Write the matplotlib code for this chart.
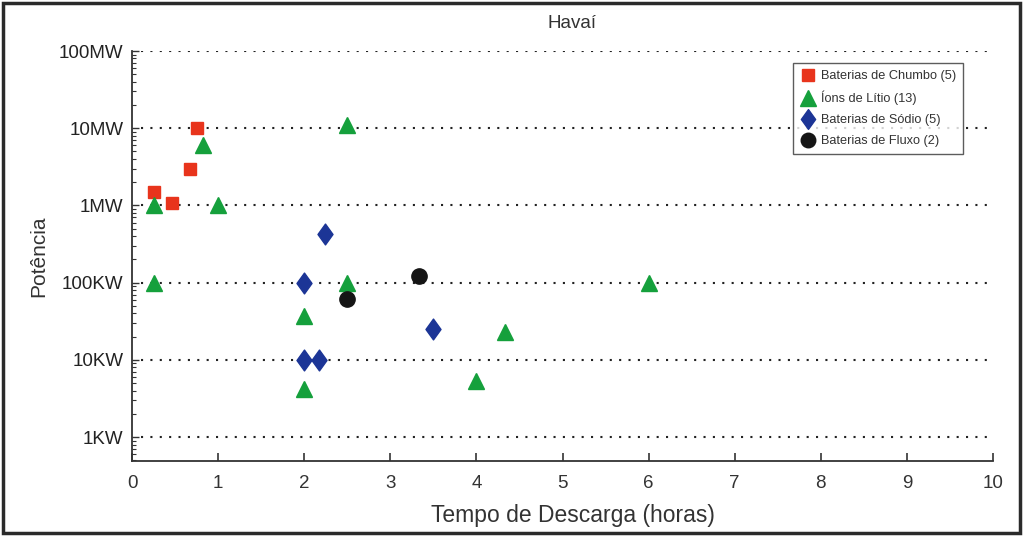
import matplotlib
matplotlib.use("Agg")
import matplotlib.pyplot as plt
from matplotlib.patches import Rectangle
from matplotlib.path import Path
from matplotlib.ticker import LogLocator, FixedLocator, NullFormatter

plt.rcParams['font.family'] = ['Liberation Sans', 'DejaVu Sans']

TITLE = "Havaí"
X_LABEL = "Tempo de Descarga (horas)"
Y_LABEL = "Potência"

# discharge time (h) and power (W) per technology
chumbo_x = [0.25, 0.46, 0.67, 0.75]
chumbo_y = [1.5e6, 1.08e6, 3.0e6, 1.0e7]

litio_x = [0.25, 0.82, 1.0, 2.5, 0.25, 2.0, 2.0, 2.5, 4.0, 4.33, 6.0]
litio_y = [1.0e6, 6.0e6, 1.0e6, 1.1e7, 1.0e5, 3.7e4, 4.2e3, 1.0e5, 5.3e3, 2.3e4, 1.0e5]

sodio_x = [2.24, 2.0, 2.0, 2.17, 3.5]
sodio_y = [4.3e5, 1.0e5, 1.0e4, 1.0e4, 2.5e4]

fluxo_x = [2.5, 3.33]
fluxo_y = [6.1e4, 1.23e5]

labels = ["Baterias de Chumbo (5)", "Íons de Lítio (13)",
          "Baterias de Sódio (5)", "Baterias de Fluxo (2)"]
y_ticks = [1e3, 1e4, 1e5, 1e6, 1e7, 1e8]
y_tick_labels = ["1KW", "10KW", "100KW", "1MW", "10MW", "100MW"]

# diamond a bit taller than wide, like the original
diamond = Path([(0, 1), (0.72, 0), (0, -1), (-0.72, 0), (0, 1)],
               [Path.MOVETO, Path.LINETO, Path.LINETO, Path.LINETO, Path.CLOSEPOLY])

fig = plt.figure(figsize=(10.24, 5.36), dpi=100)
ax = fig.add_axes([132 / 1024, 1 - 461 / 536, (993 - 132) / 1024, (461 - 51) / 536])

ax.plot(chumbo_x, chumbo_y, 's', color='#e8341c', markersize=9, label=labels[0], zorder=3)
ax.plot(litio_x, litio_y, '^', color='#15a03c', markersize=12, label=labels[1], zorder=3)
ax.plot(sodio_x, sodio_y, marker=diamond, linestyle='none', color='#1c3596',
        markersize=15, label=labels[2], zorder=3)
ax.plot(fluxo_x, fluxo_y, 'o', color='#151515', markersize=11, label=labels[3], zorder=3)

ax.set_yscale('log')
ax.set_xlim(0, 10)
ax.set_ylim(490, 1e8)
ax.yaxis.set_major_locator(FixedLocator(y_ticks))
ax.set_yticklabels(y_tick_labels)
ax.yaxis.set_minor_locator(LogLocator(base=10, subs=range(2, 10), numticks=20))
ax.yaxis.set_minor_formatter(NullFormatter())
ax.set_xticks(range(0, 11))

for yv in y_ticks:
    ax.plot([0.1, 10], [yv, yv], color='#222222', linestyle=(0, (1, 3.5)),
            linewidth=1.5, zorder=1)

for s in ['top', 'right']:
    ax.spines[s].set_visible(False)
for s in ['left', 'bottom']:
    ax.spines[s].set_color('#333333')
    ax.spines[s].set_linewidth(1.3)

ax.tick_params(axis='x', direction='in', length=6, width=1.2, colors='#333333',
               labelsize=13.5, pad=10, labelcolor='#333333')
ax.tick_params(axis='y', which='major', direction='in', length=5, width=1,
               labelsize=13.5, pad=6, colors='#333333', labelcolor='#222222')
ax.tick_params(axis='y', which='minor', direction='in', length=3, width=0.8,
               colors='#333333')

ax.set_xlabel(X_LABEL, fontsize=16.5, color='#333333', labelpad=8)
ax.xaxis.set_label_coords((573 - 132) / (993 - 132), -0.105)
ax.set_ylabel(Y_LABEL, fontsize=15, color='#333333', labelpad=8)

fig.text(572 / 1024, 1 - 24 / 536, TITLE, fontsize=13.5, color='#333333',
         ha='center', va='center')

leg = ax.legend(loc='upper left', bbox_to_anchor=(793 / 1024, 1 - 63 / 536),
                bbox_transform=fig.transFigure, fontsize=9.2, frameon=True,
                fancybox=False, edgecolor='#333333', borderpad=0.55,
                borderaxespad=0, handletextpad=0.35, handlelength=1.3,
                labelspacing=0.7, markerscale=0.95, numpoints=1)
leg.get_frame().set_linewidth(1.0)
for t in leg.get_texts():
    t.set_color('#333333')

fig.patches.append(Rectangle((0.003, 0.005), 0.993, 0.99, transform=fig.transFigure,
                             fill=False, edgecolor='#2a2a2a', linewidth=2.5))

fig.savefig("out.png", dpi=100)
